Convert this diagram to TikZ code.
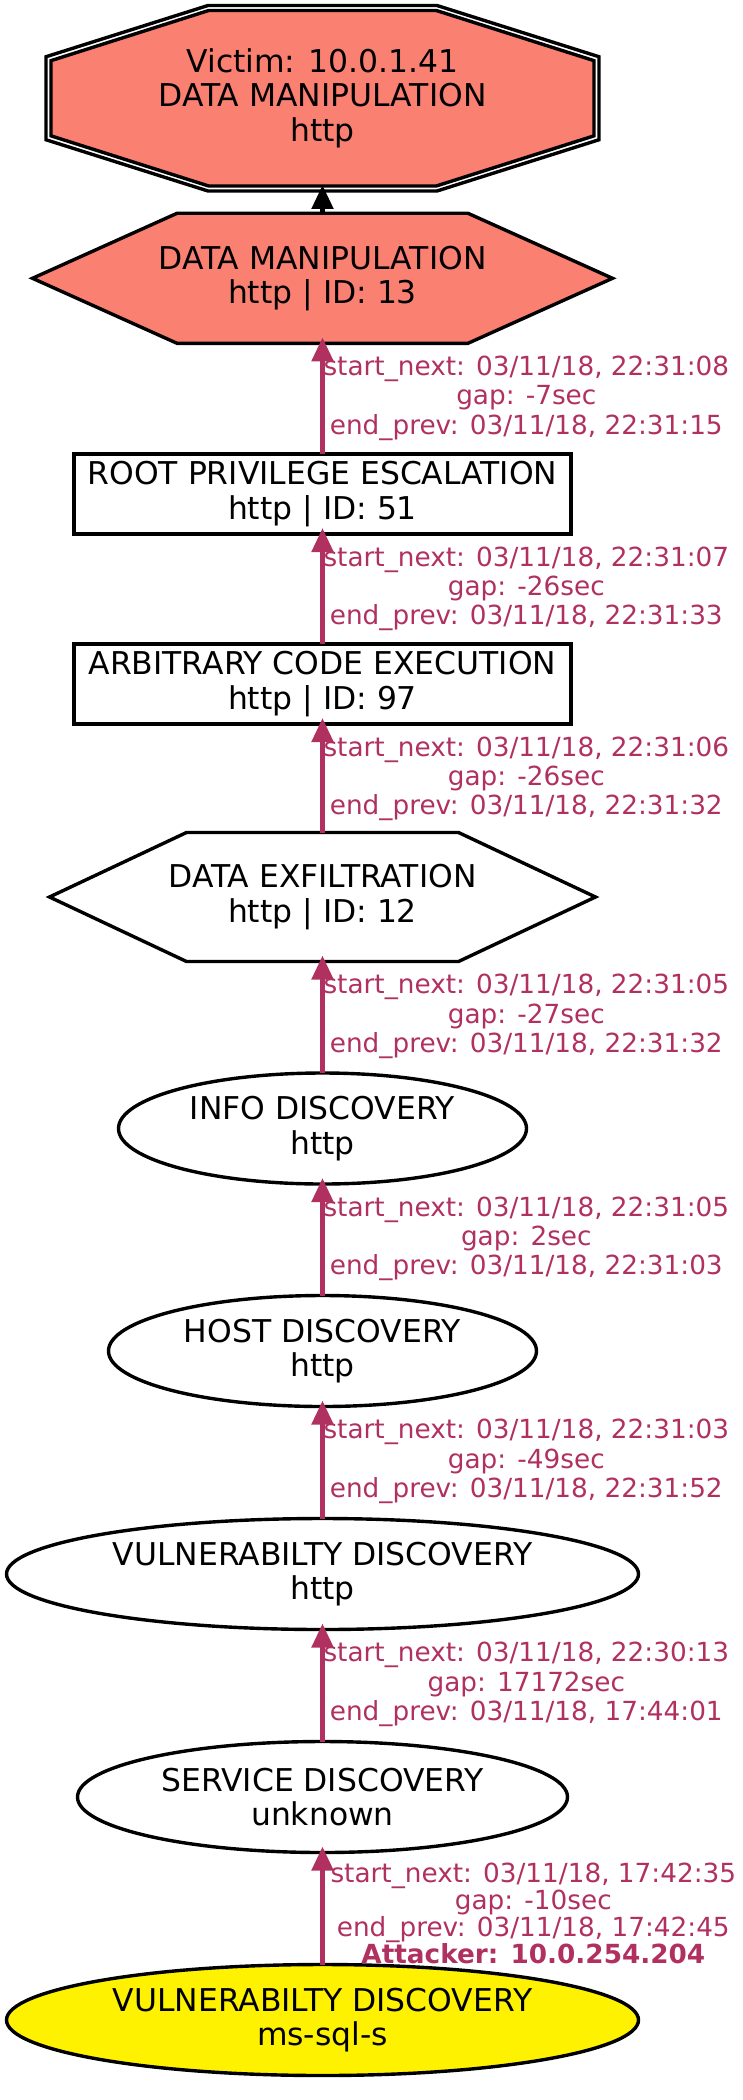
\documentclass[tikz,border=0pt]{standalone}
\usepackage{fontspec}
\setmainfont{DejaVu Sans}
\usetikzlibrary{shapes.geometric,arrows.meta,backgrounds,calc}
\definecolor{salmon}{HTML}{FA8072}
\definecolor{edgecol}{HTML}{B03060}
\begin{document}
\begin{tikzpicture}[x=1pt,y=-1pt,
  nfont/.style={font=\fontsize{31.4}{34.5}\selectfont},
  txt/.style={nfont, align=center, inner sep=0pt, outer sep=0pt, shape=rectangle},
  ell/.style={ellipse, draw=black, line width=3.4pt, nfont, align=center, inner sep=0pt, outer sep=0pt, minimum height=111pt},
  boxnode/.style={rectangle, draw=black, line width=3.4pt, nfont, align=center, inner sep=0pt, outer sep=0pt, minimum width=497pt, minimum height=80pt},
  poly/.style={draw=black, line width=3.4pt, line join=miter},
  conn/.style={draw=edgecol, line width=5pt, -{Triangle[length=24pt,width=21pt]}},
  lbl/.style={font=\fontsize{26.3}{29.2}\selectfont, text=edgecol, align=center, inner sep=0pt, outer sep=0pt, anchor=west},
]
\useasboundingbox (0,0) rectangle (743,2100);

% nodes
\node[txt, minimum width=553pt, minimum height=185.5pt] (victim) at (322.5,98.25) {Victim: 10.0.1.41\\DATA MANIPULATION\\http};
\node[txt, minimum width=580pt, minimum height=130pt] (dm) at (322.5,278.3) {DATA MANIPULATION\\http | ID: 13};
\node[boxnode] (root) at (322.5,494) {ROOT PRIVILEGE ESCALATION\\http | ID: 51};
\node[boxnode] (ace) at (322.5,684) {ARBITRARY CODE EXECUTION\\http | ID: 97};
\node[txt, minimum width=546pt, minimum height=129pt] (de) at (322.5,897) {DATA EXFILTRATION\\http | ID: 12};
\node[ell, minimum width=408pt] (info) at (322.5,1128.5) {INFO DISCOVERY\\http};
\node[ell, minimum width=428pt] (host) at (322.5,1351) {HOST DISCOVERY\\http};
\node[ell, minimum width=632pt] (vuln) at (322.5,1574) {VULNERABILTY DISCOVERY\\http};
\node[ell, minimum width=490pt] (serv) at (322.5,1797) {SERVICE DISCOVERY\\unknown};
\node[ell, minimum width=632pt, fill=yellow] (att) at (322.5,2020) {VULNERABILTY DISCOVERY\\ms-sql-s};

% polygon outlines behind the texts
\begin{scope}[on background layer]
  \begin{scope}[shift={(victim.center)}]
    \draw[poly] (-114.5,-92.75) -- (114.5,-92.75) -- (276.5,-41.5) -- (276.5,41.5) -- (114.5,92.75) -- (-114.5,92.75) -- (-276.5,41.5) -- (-276.5,-41.5) -- cycle;
    \draw[poly, fill=salmon] (-113.8,-87.75) -- (113.8,-87.75) -- (271.5,-37.6) -- (271.5,37.6) -- (113.8,87.75) -- (-113.8,87.75) -- (-271.5,37.6) -- (-271.5,-37.6) -- cycle;
  \end{scope}
  \begin{scope}[shift={(dm.center)}]
    \draw[poly, fill=salmon] (-145.5,-65) -- (145.5,-65) -- (290,0) -- (145.5,65) -- (-145.5,65) -- (-290,0) -- cycle;
  \end{scope}
  \begin{scope}[shift={(de.center)}]
    \draw[poly, fill=white] (-136,-64.5) -- (136,-64.5) -- (273,0) -- (136,64.5) -- (-136,64.5) -- (-273,0) -- cycle;
  \end{scope}
\end{scope}

% connectors
\draw[conn, draw=black] (dm.north) -- ([yshift=6pt]victim.south);
\draw[conn] (root.north) -- ([yshift=6pt]dm.south);
\draw[conn] (ace.north) -- ([yshift=6pt]root.south);
\draw[conn] (de.north) -- ([yshift=6pt]ace.south);
\draw[conn] (info.north) -- ([yshift=6pt]de.south);
\draw[conn] (host.north) -- ([yshift=6pt]info.south);
\draw[conn] (vuln.north) -- ([yshift=6pt]host.south);
\draw[conn] (serv.north) -- ([yshift=6pt]vuln.south);
\draw[conn] (att.north) -- ([yshift=6pt]serv.south);

% connector labels
\node[lbl] (l1) at ($(dm.south)+(1,55)$) {start\_next: 03/11/18, 22:31:08\\gap: -7sec\\end\_prev: 03/11/18, 22:31:15};
\node[lbl] (l2) at ($(root.south)+(1,55)$) {start\_next: 03/11/18, 22:31:07\\gap: -26sec\\end\_prev: 03/11/18, 22:31:33};
\node[lbl] (l3) at ($(ace.south)+(1,55)$) {start\_next: 03/11/18, 22:31:06\\gap: -26sec\\end\_prev: 03/11/18, 22:31:32};
\node[lbl] (l4) at ($(de.south)+(1,55)$) {start\_next: 03/11/18, 22:31:05\\gap: -27sec\\end\_prev: 03/11/18, 22:31:32};
\node[lbl] (l5) at ($(info.south)+(1,55)$) {start\_next: 03/11/18, 22:31:05\\gap: 2sec\\end\_prev: 03/11/18, 22:31:03};
\node[lbl] (l6) at ($(host.south)+(1,55)$) {start\_next: 03/11/18, 22:31:03\\gap: -49sec\\end\_prev: 03/11/18, 22:31:52};
\node[lbl] (l7) at ($(vuln.south)+(1,55)$) {start\_next: 03/11/18, 22:30:13\\gap: 17172sec\\end\_prev: 03/11/18, 17:44:01};
\node[lbl, font=\fontsize{26.3}{27}\selectfont] (l8) at ($(serv.south)+(8,61)$) {start\_next: 03/11/18, 17:42:35\\gap: -10sec\\end\_prev: 03/11/18, 17:42:45\\\textbf{Attacker: 10.0.254.204}};
\end{tikzpicture}
\end{document}
